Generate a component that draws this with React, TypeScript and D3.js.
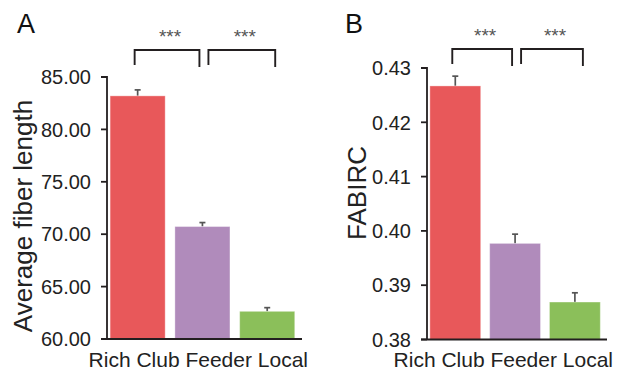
import React from 'react';
import * as d3 from 'd3';

// categories and colours
const categories = ['Rich Club', 'Feeder', 'Local'];
const barColors = ['#e8585a', '#b08bbb', '#8bbf5a'];

// panel A: average fiber length
const fiberLength = [83.2, 70.73, 62.64];
const fiberLengthErr = [0.57, 0.38, 0.35];
const fiberTicks = [60, 65, 70, 75, 80, 85];

// panel B: FABIRC
const fabirc = [0.4267, 0.3977, 0.3869];
const fabircErr = [0.0018, 0.0017, 0.0017];
const fabircTicks = [0.38, 0.39, 0.40, 0.41, 0.42, 0.43];

// significance brackets
const comparisons = [
  { from: 'Rich Club', to: 'Feeder', label: '***' },
  { from: 'Feeder', to: 'Local', label: '***' },
];

const FONT = "Arial, 'Liberation Sans', Helvetica, sans-serif";
const AXIS = '#231f20';

type PanelProps = {
  letter: string;
  title: string;
  values: number[];
  errors: number[];
  ticks: number[];
  left: number;
  right: number;
  top: number;
  bottom: number;
  titleX: number;
  titleY: number;
  letterX: number;
  bracketTop: number;
};

function Panel(p: PanelProps) {
  const y = d3.scaleLinear()
    .domain([p.ticks[0], p.ticks[p.ticks.length - 1]])
    .range([p.bottom, p.top]);

  const x = d3.scaleBand<string>()
    .domain(categories)
    .range([p.left, p.right])
    .paddingInner(0.15)
    .paddingOuter(0.08)
    .align(0.3);

  const fmt = d3.format('.2f');
  const bw = x.bandwidth();
  const cx = (c: string) => (x(c) as number) + bw / 2;

  return (
    <g fontFamily={FONT}>
      {/* panel letter */}
      <text x={p.letterX} y={33} fontSize={27} fill="#111">{p.letter}</text>

      {/* y axis title */}
      <text
        transform={`translate(${p.titleX},${p.titleY}) rotate(-90)`}
        textAnchor="middle"
        fontSize={26}
        fill="#222"
      >
        {p.title}
      </text>

      {/* error bars (drawn under the bars) */}
      {categories.map((c, i) => {
        const top = y(p.values[i] + p.errors[i]);
        return (
          <g key={'e' + c} stroke="#555" strokeWidth={1.7}>
            <line x1={cx(c)} x2={cx(c)} y1={y(p.values[i])} y2={top} />
            <line x1={cx(c) - 3} x2={cx(c) + 3} y1={top} y2={top} />
          </g>
        );
      })}

      {/* bars */}
      {categories.map((c, i) => (
        <rect
          key={c}
          x={x(c)}
          y={y(p.values[i])}
          width={bw}
          height={p.bottom - y(p.values[i])}
          fill={barColors[i]}
          stroke="#fff"
          strokeOpacity={0.35}
          strokeWidth={1}
        />
      ))}

      {/* y axis */}
      <path
        d={`M${p.left - 6},${p.top}H${p.left}V${p.bottom}`}
        fill="none"
        stroke={AXIS}
        strokeWidth={1.8}
      />
      {p.ticks.map(t => (
        <g key={t}>
          <line x1={p.left - 6} x2={p.left} y1={y(t)} y2={y(t)} stroke={AXIS} strokeWidth={1.8} />
          <text x={p.left - 16} y={y(t)} dy="0.36em" textAnchor="end" fontSize={20} fill="#222">
            {fmt(t)}
          </text>
        </g>
      ))}

      {/* baseline */}
      <line x1={p.left - 6} x2={p.right} y1={p.bottom} y2={p.bottom} stroke={AXIS} strokeWidth={1.8} />

      {/* category labels */}
      <text x={p.right + 6} y={367} textAnchor="end" fontSize={21} fill="#222">
        {categories.join(' ')}
      </text>

      {/* significance brackets */}
      {comparisons.map((cmp, i) => {
        const x1 = cx(cmp.from) + (i === 0 ? -3 : 6);
        const x2 = cx(cmp.to) + (i === 0 ? -3 : 8);
        return (
          <g key={cmp.from + cmp.to}>
            <path
              d={`M${x1},${p.bracketTop + 15}V${p.bracketTop}H${x2}V${p.bracketTop + 17}`}
              fill="none"
              stroke={AXIS}
              strokeWidth={1.9}
            />
            <text
              x={(x1 + x2) / 2 + 3}
              y={p.bracketTop - 7}
              textAnchor="middle"
              fontSize={19}
              fill="#555"
            >
              {cmp.label}
            </text>
          </g>
        );
      })}
    </g>
  );
}

export default function App() {
  return (
    <svg
      width={621}
      height={372}
      style={{ position: 'absolute', left: 0, top: 0, background: '#fff' }}
    >
      <Panel
        letter="A"
        title="Average fiber length"
        values={fiberLength}
        errors={fiberLengthErr}
        ticks={fiberTicks}
        left={107}
        right={302}
        top={77}
        bottom={339}
        titleX={32}
        titleY={216}
        letterX={17}
        bracketTop={50}
      />
      <Panel
        letter="B"
        title="FABIRC"
        values={fabirc}
        errors={fabircErr}
        ticks={fabircTicks}
        left={427}
        right={607}
        top={68}
        bottom={339.5}
        titleX={366}
        titleY={193}
        letterX={345}
        bracketTop={49}
      />
    </svg>
  );
}
